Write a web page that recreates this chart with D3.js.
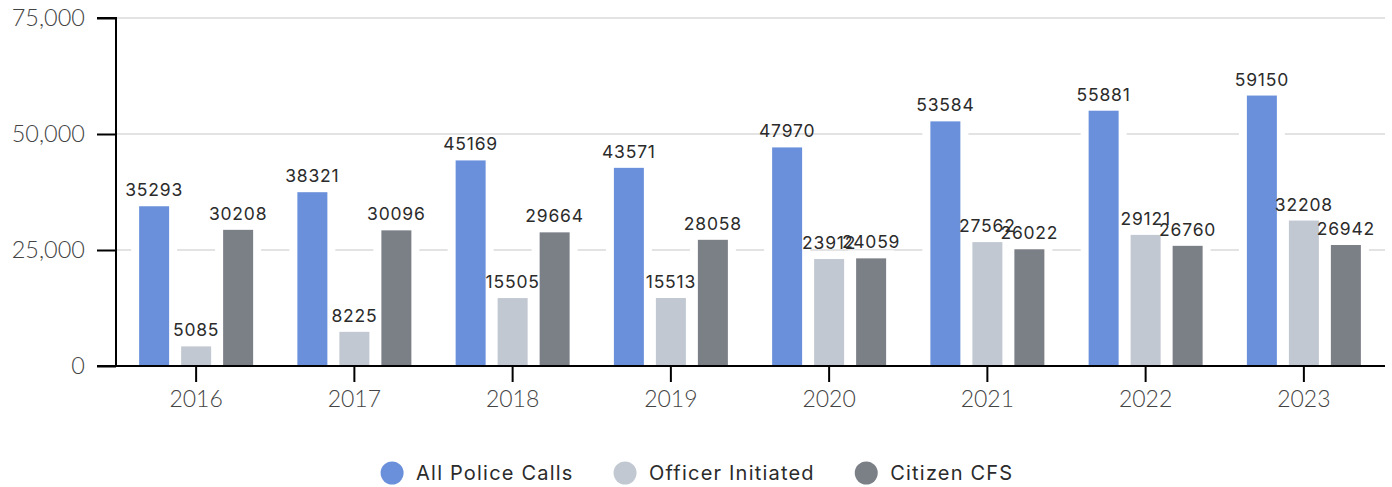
<!DOCTYPE html>
<html><head><meta charset="utf-8">
<script src="https://cdn.jsdelivr.net/npm/d3@7"></script>
<style>html,body{margin:0;padding:0;background:#fff}svg{display:block}</style>
</head><body>
<svg id="c" width="1392" height="487"></svg>
<script>
const years = ["2016","2017","2018","2019","2020","2021","2022","2023"];
const seriesNames = ["All Police Calls","Officer Initiated","Citizen CFS"];
const allPoliceCalls = [35293,38321,45169,43571,47970,53584,55881,59150];
const officerInitiated = [5085,8225,15505,15513,23912,27562,29121,32208];
const citizenCFS = [30208,30096,29664,28058,24059,26022,26760,26942];
const yTicks = [0,25000,50000,75000];
const colors = ["#6a90db","#c1c8d1","#7b7f86"];

const svg = d3.select("#c");
const x0 = d3.scaleBand().domain(years).range([117,1383]).padding(0);
const x1 = d3.scaleBand().domain(seriesNames).range([-63,63]).padding(0);
const y = d3.scaleLinear().domain([0,75000]).range([366,18]);
const seriesVals = [allPoliceCalls, officerInitiated, citizenCFS];

// gridlines
svg.append("g").selectAll("line").data(yTicks.filter(d=>d>0)).join("line")
  .attr("x1",116).attr("x2",1385).attr("y1",d=>y(d)).attr("y2",d=>y(d))
  .attr("stroke","#e3e3e3").attr("stroke-width",2);

// bars
const groups = svg.append("g").selectAll("g").data(years).join("g")
  .attr("transform",d=>`translate(${x0(d)+x0.bandwidth()/2},0)`);
groups.each(function(yr,i){
  const g = d3.select(this);
  seriesNames.forEach((s,j)=>{
    const v = seriesVals[j][i];
    g.append("rect").attr("x",x1(s)+2).attr("width",x1.bandwidth()-4)
      .attr("y",y(v)).attr("height",y(0)-y(v)+4)
      .attr("fill",colors[j]).attr("stroke","#fff").attr("stroke-width",8);
  });
  seriesNames.forEach((s,j)=>{
    const v = seriesVals[j][i];
    g.append("text").attr("x",x1(s)+x1.bandwidth()/2).attr("y",y(v)-6)
      .attr("text-anchor","middle").attr("font-family","Inter, sans-serif")
      .attr("font-size",17.5).attr("letter-spacing",0.8).attr("fill","#2b2b2b").text(v);
  });
});

// y axis
const yAxis = svg.append("g").attr("transform","translate(116,0)")
  .call(d3.axisLeft(y).tickValues(yTicks).tickSize(19).tickPadding(12).tickFormat(d3.format(",")));
yAxis.select(".domain").attr("stroke","#000").attr("stroke-width",2).attr("d","M-19,18H0V366");
yAxis.selectAll(".tick line").attr("stroke","#000").attr("stroke-width",2);
yAxis.selectAll("text").attr("font-family","Lato, sans-serif").attr("font-weight",300)
  .attr("font-size",23.5).attr("fill","#444");

// x axis
const xAxis = svg.append("g").attr("transform","translate(0,366)")
  .call(d3.axisBottom(x0).tickSize(16).tickPadding(9));
xAxis.select(".domain").attr("stroke","#000").attr("stroke-width",2).attr("d","M97,0H1385");
xAxis.selectAll(".tick line").attr("stroke","#000").attr("stroke-width",2);
xAxis.selectAll("text").attr("font-family","Lato, sans-serif").attr("font-weight",300)
  .attr("font-size",23).attr("fill","#444");

// legend (flow layout, centred)
const leg = svg.append("g").attr("transform","translate(0,473)");
const items = leg.selectAll("g").data(seriesNames).join("g");
items.append("circle").attr("r",11.5).attr("fill",(d,i)=>colors[i]);
const texts = items.append("text").attr("x",24).attr("dy","0.35em").attr("font-family","Inter, sans-serif")
  .attr("font-size",20).attr("letter-spacing",1.2).attr("fill","#2b2b2b").text(d=>d);
const widths = [];
texts.each(function(){ widths.push(this.getComputedTextLength()); });
const itemW = widths.map(w=>11.5+24+w);
const gap = 40;
const total = d3.sum(itemW) + gap*(itemW.length-1);
let cx = 697 - total/2 + 11.5;
items.attr("transform",(d,i)=>{ const t=`translate(${cx},0)`; cx += itemW[i]+gap; return t; });
</script>
</body></html>
